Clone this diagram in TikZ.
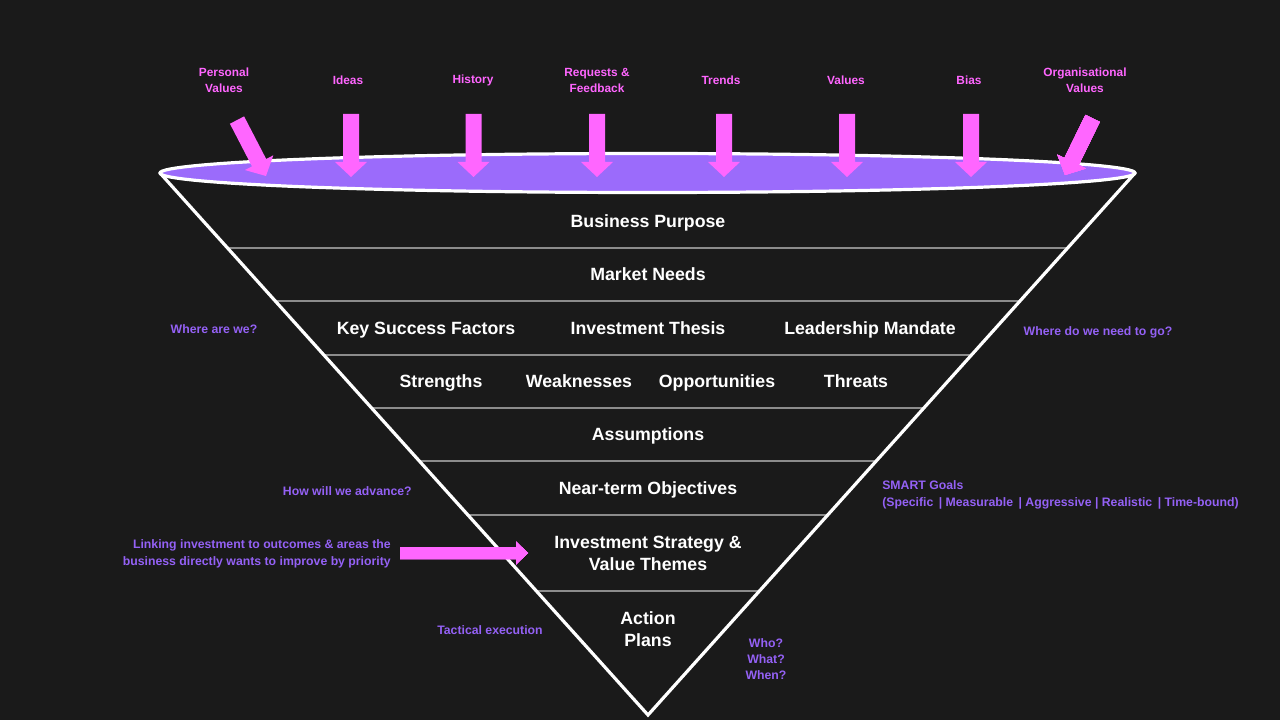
\documentclass[tikz,border=0pt]{standalone}
\usepackage{fontspec}
\setmainfont{Liberation Sans}
\usetikzlibrary{calc}
\definecolor{bgc}{HTML}{1A1A1A}
\definecolor{pinkc}{HTML}{FF66FF}
\definecolor{purpc}{HTML}{9461F5}
\definecolor{ellc}{HTML}{9B6BFB}
\definecolor{sepc}{HTML}{8C8C8C}
\newcommand{\pinkarrow}[5]{% tip x, tip y, angle, head length, half shaft width
  \begin{scope}[shift={(#1,#2)},rotate=#3]
  \fill[pinkc] (0,0) -- (-#4,#5*2) -- (-#4,#5) -- (-63,#5) -- (-63,-#5) -- (-#4,-#5) -- (-#4,-#5*2) -- cycle;
  \end{scope}}
\tikzset{
  main/.style={text=white,font=\bfseries\fontsize{13.3}{16.5}\selectfont,align=center,inner sep=0pt},
  mainb/.style={main,anchor=base},
  toplab/.style={text=pinkc,font=\bfseries\fontsize{8.9}{12}\selectfont,align=center,inner sep=0pt},
  sidelab/.style={text=purpc,font=\bfseries\fontsize{9.2}{12.5}\selectfont,inner sep=0pt},
  sep/.style={draw=sepc,line width=1.5pt},
  edge/.style={draw=white,line width=2.4pt,line join=miter},
}
\begin{document}
\begin{tikzpicture}[x=0.75pt,y=-0.75pt]
\fill[bgc] (0,0) rectangle (1280,720);
\useasboundingbox (0,0) rectangle (1280,720);
\coordinate (L) at (160,173);
\coordinate (R) at (1135,173);
\coordinate (B) at (648,715);
% separators
\foreach \t in {0.1384,0.2362,0.3358,0.4336,0.5314,0.6310,0.7712}
  \draw[sep] ($(L)!\t!(B)$) -- ($(R)!\t!(B)$);
% funnel sides
\draw[edge] (L) -- (B) -- (R);
% rim
\draw[draw=white,line width=2.4pt,fill=ellc] (647.5,173) ellipse [x radius=487.5, y radius=19.5];
% top arrows
\pinkarrow{266}{176}{-62.6}{15}{8}
\foreach \x in {351,473.5,597,724,847,971}
  \pinkarrow{\x}{177}{-90}{15}{8}
\pinkarrow{1065}{175}{-116}{15}{8}
% pink horizontal arrow
\fill[pinkc] (400,547) -- (516,547) -- (516,541.5) -- (528,553) -- (516,564.5) -- (516,559) -- (400,559) -- cycle;
% top labels
\node[toplab] (pv) at (224,80) {Personal\\Values};
\node[toplab] (id) at (348,80) {Ideas};
\node[toplab] (hi) at (473,80) {History};
\node[toplab] (rf) at (597,80) {Requests \&\\Feedback};
\node[toplab] (tr) at (721,80) {Trends};
\node[toplab] (va) at (846,80) {Values};
\node[toplab] (bi) at (969,80) {Bias};
\node[toplab] (ov) at (1085,80) {Organisational\\Values};
% funnel texts
\node[mainb] (bp) at (648,227.5) {Business Purpose};
\node[mainb] (mn) at (648,280.5) {Market Needs};
\node[mainb] (ksf) at (426,334.5) {Key Success Factors};
\node[mainb] (it) at (648,334.5) {Investment Thesis};
\node[mainb] (lm) at (870,334.5) {Leadership Mandate};
\node[mainb] (st) at (441,387.5) {Strengths};
\node[mainb] (we) at (579,387.5) {Weaknesses};
\node[mainb] (op) at (717,387.5) {Opportunities};
\node[mainb] (th) at (856,387.5) {Threats};
\node[mainb] (as) at (648,440.5) {Assumptions};
\node[mainb] (nto) at (648,494.5) {Near-term Objectives};
\node[main] (is) at (648,553) {Investment Strategy \&\\Value Themes};
\node[main] (ap) at (648,629) {Action\\Plans};
% side labels
\node[sidelab] (w1) at (214,329) {Where are we?};
\node[sidelab] (w2) at (1098,332) {Where do we need to go?};
\node[sidelab,anchor=east] (hw) at (412,491) {How will we advance?};
\node[sidelab,anchor=west,align=left] (sm) at (882,495) {SMART Goals\\(Specific \,| Measurable \,| Aggressive | Realistic \,| Time-bound)};
\node[sidelab,anchor=east,align=right] (lk) at (391,554) {Linking investment to outcomes \& areas the\\business directly wants to improve by priority};
\node[sidelab] (te) at (490,630) {Tactical execution};
\node[sidelab,align=center,font=\bfseries\fontsize{9.2}{12}\selectfont] (ww) at (766,659) {Who?\\What?\\When?};
\end{tikzpicture}
\end{document}
